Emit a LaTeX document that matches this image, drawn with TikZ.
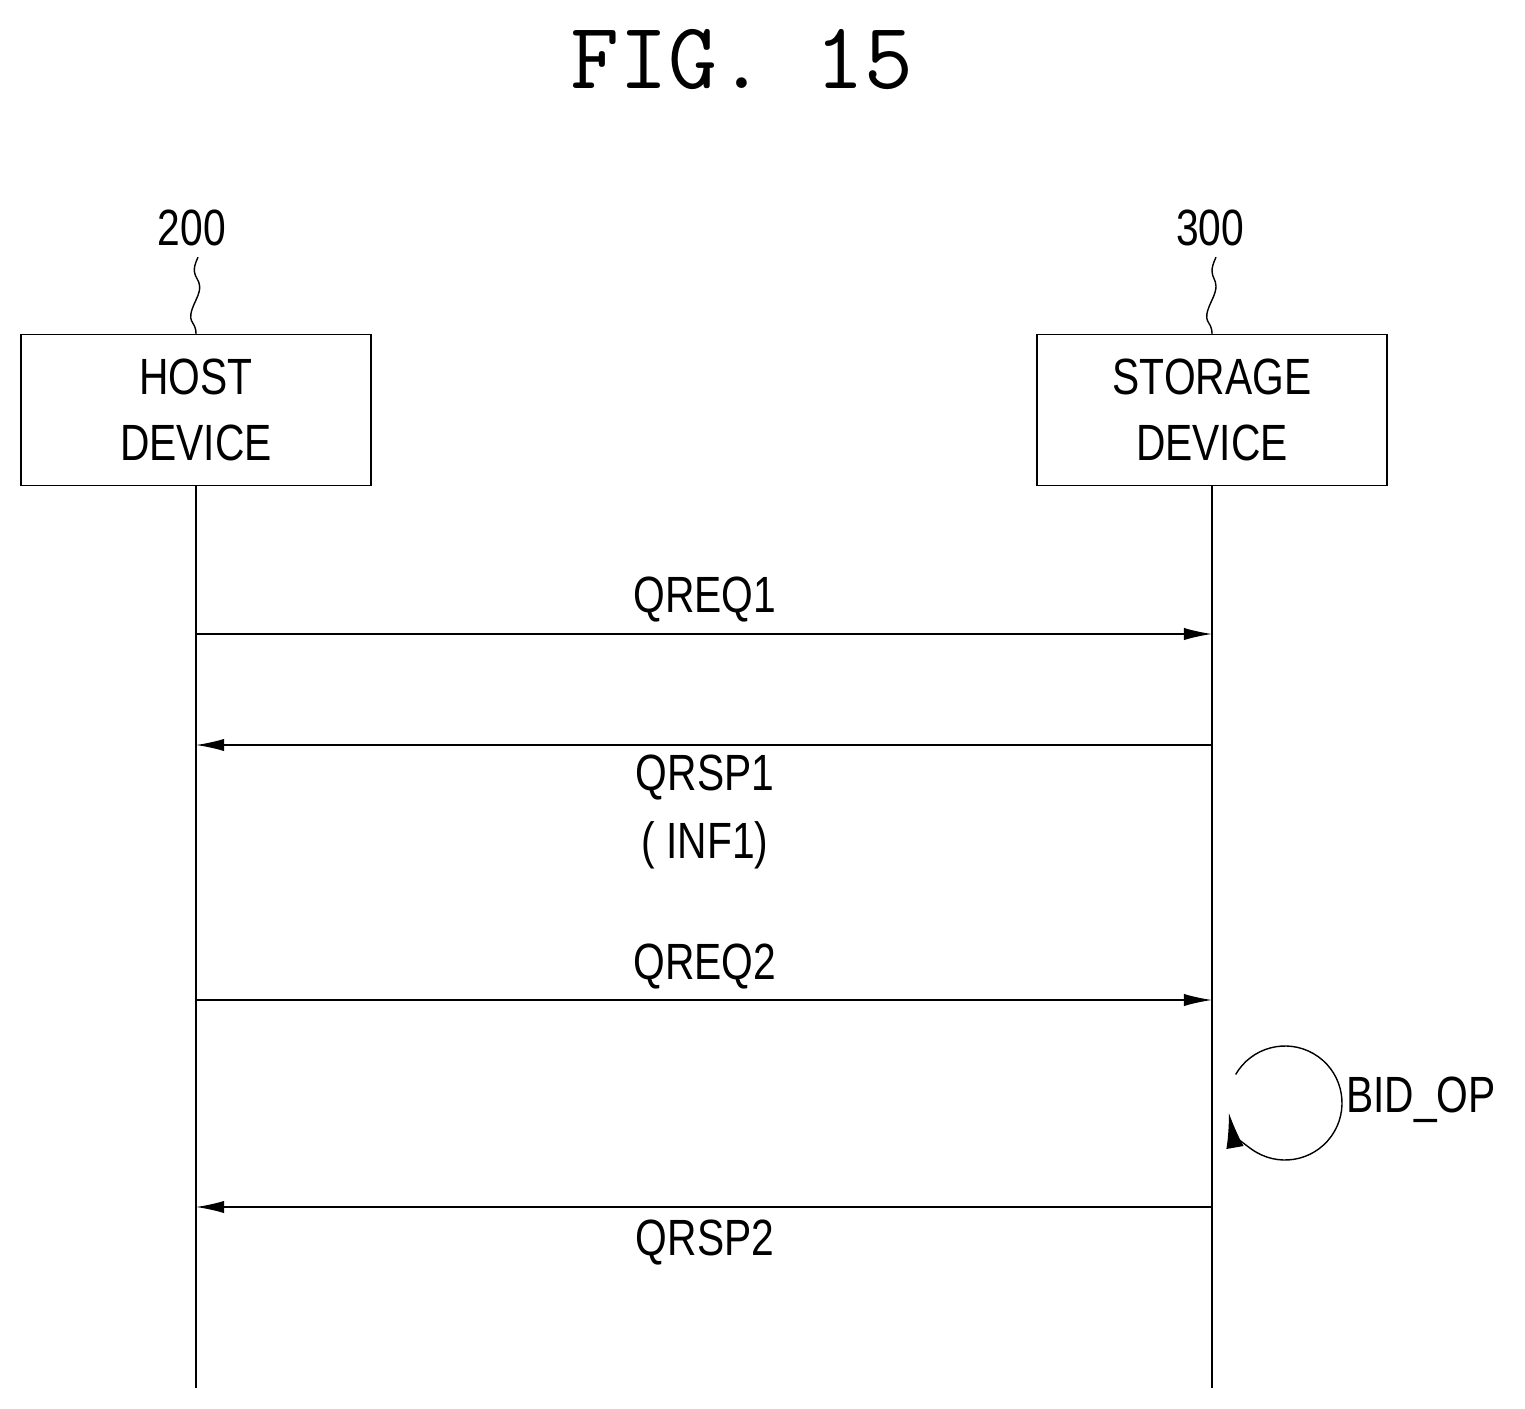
\documentclass[tikz,border=0pt]{standalone}
\usepackage{fontspec}
\setmainfont{Liberation Sans}[FakeStretch=0.8]
\usetikzlibrary{arrows.meta}
\begin{document}
\begin{tikzpicture}[x=0.02cm,y=-0.02cm]
\tikzstyle{dev}=[draw,thick,minimum width=7cm,minimum height=3.02cm,align=center,font=\fontsize{29}{38}\selectfont]
\tikzstyle{lbl}=[font=\fontsize{29}{36}\selectfont]
\tikzstyle{msg}=[-{Latex[length=16pt,width=7pt]},thick]
\tikzstyle{life}=[thick]
\useasboundingbox (0,0) rectangle (1525,1409);

\node[font=\fontsize{54}{60}\selectfont\ttfamily] (title) at (742,60) {FIG. 15};
\node[dev] (host) at (196,410) {HOST\\DEVICE};
\node[dev] (stor) at (1212,410) {STORAGE\\DEVICE};
\node[lbl] (n200) at (192,228) {200};
\node[lbl] (n300) at (1210,228) {300};
\draw[thick] (n200.south) ++(6,5) .. controls +(-12,25) and +(12,-25) .. (196,300) .. controls +(-12,25) and +(0,-15) .. (host.north);
\draw[thick] (n300.south) ++(6,5) .. controls +(-12,25) and +(12,-25) .. (1212,300) .. controls +(-12,25) and +(0,-15) .. (stor.north);

\coordinate (hEnd) at (196,1388);
\coordinate (sEnd) at (1212,1388);
\draw[life] (host.south) -- (hEnd);
\draw[life] (stor.south) -- (sEnd);

\foreach \n/\y in {a/634,b/745,c/1000,d/1207} {
  \coordinate (h\n) at (196,\y);
  \coordinate (s\n) at (1212,\y);
}
\draw[msg] (ha) -- (sa);
\draw[msg] (sb) -- (hb);
\draw[msg] (hc) -- (sc);
\draw[msg] (sd) -- (hd);
\node[lbl] (qreq1) at (705,600) {QREQ1};
\node[lbl] (qrsp1) at (705,778) {QRSP1};
\node[lbl] (inf1) at (705,845) {( INF1)};
\node[lbl] (qreq2) at (705,967) {QREQ2};
\node[lbl] (qrsp2) at (705,1243) {QRSP2};

\coordinate (loopc) at (1285,1103);
\draw[-{Latex[length=20pt,width=10pt]},thick] (loopc) ++(-150:57) arc[start angle=-150,end angle=170,radius=57];
\node[lbl,anchor=west] (bidop) at (1340,1100) {BID\_OP};
\end{tikzpicture}
\end{document}
